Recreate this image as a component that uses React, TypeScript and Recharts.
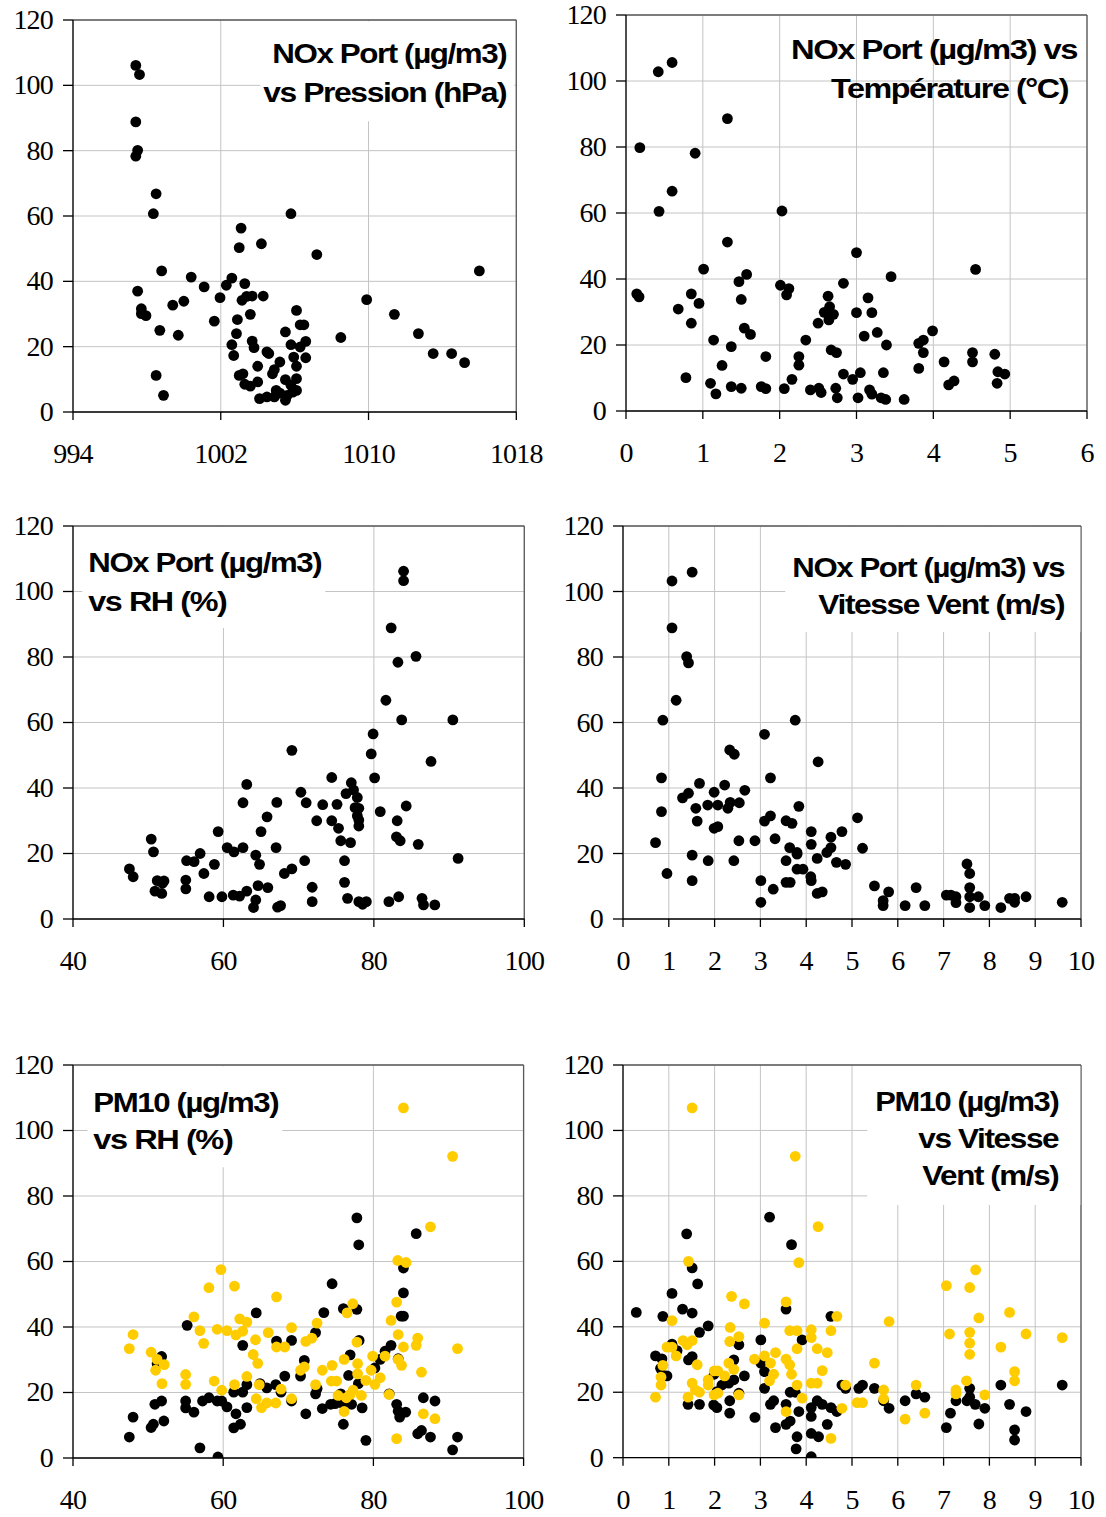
import { CartesianGrid, ReferenceLine, Scatter, ScatterChart, XAxis, YAxis } from 'recharts';

type Pt = [number, number];

// NOx Port (µg/m3) vs Pression (hPa)
const noxPression: Pt[] = [
  [997.4, 106.1], [997.6, 103.3], [997.4, 88.8], [997.5, 80.1], [997.4, 78.3], [998.5, 66.8], [998.35, 60.7],
  [998.8, 43.2], [997.5, 37.0], [997.7, 31.6], [997.7, 30.1], [997.95, 29.5], [998.7, 25.0], [998.5, 11.2],
  [998.9, 5.1], [999.4, 32.7], [1000.0, 33.9], [999.7, 23.5], [1000.4, 41.3], [1001.1, 38.3], [1001.65, 27.8],
  [1001.96, 35.0], [1002.3, 38.8], [1002.6, 41.0], [1003.1, 56.3], [1003.0, 50.3], [1003.3, 39.3], [1003.15, 34.2],
  [1003.4, 35.4], [1003.7, 35.5], [1004.3, 35.5], [1003.6, 29.9], [1002.9, 28.3], [1002.85, 24.0], [1002.6, 20.6],
  [1002.7, 17.3], [1003.7, 21.7], [1003.8, 19.7], [1004.2, 51.5], [1005.8, 60.7], [1007.2, 48.2], [1006.1, 31.1],
  [1006.3, 26.7], [1006.5, 26.7], [1005.5, 24.5], [1005.8, 20.6], [1006.3, 19.9], [1006.6, 21.6], [1005.95, 16.8],
  [1006.6, 16.6], [1006.1, 14.0], [1004.5, 18.4], [1004.6, 17.9], [1005.2, 15.3], [1004.0, 14.0], [1004.9, 13.0],
  [1004.8, 11.7], [1003.0, 11.2], [1003.2, 11.7], [1003.3, 8.5], [1003.6, 7.9], [1004.0, 9.2], [1005.5, 9.9],
  [1006.1, 10.2], [1005.8, 8.2], [1006.1, 6.6], [1004.1, 4.1], [1004.5, 4.6], [1004.9, 4.6], [1005.2, 5.8],
  [1005.5, 3.6], [1005.6, 5.1], [1005.9, 6.1], [1005.0, 6.6], [1009.9, 34.4], [1008.5, 22.8], [1011.4, 29.9],
  [1012.7, 24.0], [1013.5, 17.9], [1014.5, 17.9], [1015.2, 15.1], [1016.0, 43.2],
];

// NOx Port (µg/m3) vs Température (°C)
const noxTemperature: Pt[] = [
  [0.42, 102.8], [0.6, 105.6], [0.18, 79.8], [1.32, 88.6], [0.9, 78.1], [0.6, 66.6], [0.43, 60.5], [2.03, 60.6],
  [1.32, 51.2], [0.14, 35.5], [0.17, 34.6], [1.01, 43.0], [0.85, 35.5], [0.95, 32.6], [0.68, 30.9], [0.85, 26.6],
  [1.47, 39.2], [1.57, 41.4], [1.5, 33.8], [1.54, 25.1], [1.62, 23.2], [1.14, 21.5], [1.37, 19.5], [1.25, 13.8],
  [0.78, 10.1], [1.1, 8.4], [1.17, 5.2], [1.37, 7.4], [1.5, 6.9], [1.76, 7.4], [1.82, 6.8], [1.82, 16.5],
  [2.01, 38.1], [2.12, 37.1], [2.09, 35.2], [2.34, 21.5], [2.25, 16.5], [2.25, 13.9], [2.16, 9.6], [2.06, 6.8],
  [2.4, 6.4], [2.51, 6.9], [2.54, 5.6], [2.5, 26.6], [2.63, 34.8], [2.65, 31.6], [2.58, 29.9], [2.64, 27.6],
  [2.7, 29.3], [2.67, 18.5], [2.74, 17.7], [2.83, 38.7], [2.83, 11.2], [2.95, 9.6], [3.0, 48.0], [3.0, 29.8],
  [2.73, 6.9], [2.75, 4.0], [3.05, 11.6], [3.02, 4.0], [3.15, 34.3], [3.2, 29.8], [3.1, 22.7], [3.27, 23.8],
  [3.39, 20.0], [3.35, 11.6], [3.17, 6.4], [3.2, 5.1], [3.32, 4.0], [3.38, 3.5], [3.45, 40.7], [3.62, 3.5],
  [3.81, 20.5], [3.87, 21.5], [3.87, 17.7], [3.99, 24.3], [3.81, 12.9], [4.14, 14.9], [4.2, 7.9], [4.27, 9.1],
  [4.55, 42.9], [4.51, 17.7], [4.51, 14.9], [4.8, 17.2], [4.84, 11.9], [4.93, 11.2], [4.83, 8.4],
];

// NOx Port (µg/m3) vs RH (%)
const noxRH: Pt[] = [
  [83.95, 106.2], [83.95, 103.3], [82.3, 88.9], [85.6, 80.2], [83.2, 78.4], [81.6, 66.8], [83.7, 60.8], [90.5, 60.8],
  [79.9, 56.5], [79.65, 50.4], [87.6, 48.1], [80.1, 43.1], [69.1, 51.5], [74.4, 43.2], [77.0, 41.6], [77.3, 39.4],
  [76.3, 38.3], [77.8, 37.1], [77.5, 34.0], [78.0, 33.8], [77.8, 31.5], [78.0, 30.2], [78.0, 28.4], [75.1, 35.0],
  [73.2, 34.9], [71.0, 35.5], [70.3, 38.7], [67.1, 35.6], [63.1, 41.1], [62.6, 35.5], [72.4, 30.0], [74.4, 30.0],
  [75.3, 27.7], [75.6, 23.9], [76.9, 23.3], [80.85, 32.8], [84.3, 34.5], [83.1, 30.0], [83.0, 25.1], [83.5, 23.9],
  [85.9, 22.8], [91.2, 18.5], [76.1, 17.8], [76.1, 11.2], [76.5, 6.3], [78.0, 5.3], [78.5, 4.5], [79.0, 5.3],
  [82.0, 5.3], [83.3, 6.8], [86.4, 6.3], [86.6, 4.3], [88.1, 4.3], [70.8, 17.8], [71.8, 9.7], [71.8, 5.3],
  [65.8, 31.2], [65.0, 26.7], [67.0, 21.8], [69.1, 15.3], [68.1, 13.9], [64.3, 19.5], [64.8, 16.7], [64.6, 10.2],
  [65.9, 9.6], [64.3, 5.8], [64.0, 3.5], [67.2, 3.6], [67.6, 4.1], [63.1, 8.5], [62.15, 7.0], [61.3, 7.3],
  [59.8, 6.8], [58.1, 6.8], [59.3, 26.7], [60.5, 21.8], [61.4, 20.5], [62.6, 21.8], [58.8, 16.7], [56.9, 20.0],
  [56.1, 17.5], [55.1, 17.8], [57.4, 13.9], [55.0, 11.9], [55.0, 9.2], [50.4, 24.4], [50.7, 20.5], [51.2, 11.7],
  [52.1, 11.6], [51.9, 10.9], [50.9, 8.5], [51.8, 7.8], [47.5, 15.3], [48.0, 12.9],
];

// NOx Port (µg/m3) vs Vitesse Vent (m/s)
const noxVent: Pt[] = [
  [1.51, 105.9], [1.07, 103.2], [1.07, 88.9], [1.39, 80.1], [1.43, 78.2], [1.16, 66.8], [0.87, 60.7], [3.76, 60.7],
  [3.09, 56.4], [2.33, 51.6], [2.43, 50.3], [4.26, 48.0], [0.84, 43.1], [3.22, 43.1], [1.67, 41.4], [2.22, 40.9],
  [1.43, 38.4], [1.3, 37.0], [1.99, 38.7], [2.66, 39.3], [1.59, 33.8], [1.85, 34.8], [2.07, 34.8], [2.29, 33.8],
  [2.34, 35.6], [2.54, 35.5], [0.84, 32.8], [1.62, 29.9], [1.99, 27.7], [2.07, 28.2], [3.09, 29.9], [3.22, 31.5],
  [3.56, 30.0], [3.69, 29.2], [3.84, 34.4], [5.12, 30.9], [0.71, 23.3], [2.53, 23.9], [2.88, 23.9], [3.32, 24.5],
  [3.64, 21.8], [3.8, 20.3], [3.8, 19.8], [4.11, 26.7], [4.11, 22.8], [4.54, 25.0], [4.78, 26.7], [4.54, 21.8],
  [4.45, 20.3], [5.23, 21.6], [4.24, 18.5], [4.66, 17.3], [4.86, 16.7], [1.51, 19.5], [1.86, 17.8], [2.42, 17.8],
  [3.56, 17.8], [0.96, 13.9], [1.51, 11.7], [3.8, 15.2], [3.93, 15.2], [4.1, 12.9], [4.11, 11.7], [3.56, 11.2],
  [3.65, 11.2], [3.01, 11.7], [3.28, 9.1], [4.24, 7.8], [4.35, 8.3], [3.01, 5.1], [5.49, 10.1], [5.8, 8.3],
  [5.68, 5.6], [5.68, 4.1], [6.16, 4.1], [6.4, 9.6], [6.59, 4.1], [7.06, 7.3], [7.16, 7.3], [7.27, 6.8],
  [7.27, 5.0], [7.51, 16.8], [7.57, 13.9], [7.57, 9.6], [7.57, 6.8], [7.76, 6.8], [7.57, 3.5], [7.9, 4.1],
  [8.25, 3.5], [8.44, 6.3], [8.55, 6.3], [8.55, 5.1], [8.8, 6.8], [9.59, 5.1],
];

// PM10 (µg/m3) vs RH (%), black series
const pmRHBlack: Pt[] = [
  [77.8, 73.3], [78.05, 65.1], [85.7, 68.5], [84.0, 58.0], [84.0, 50.4], [74.5, 53.2], [83.7, 43.3], [84.0, 43.3],
  [76.0, 45.6], [77.8, 45.4], [73.4, 44.4], [64.4, 44.3], [55.2, 40.5], [62.6, 34.4], [67.1, 35.7], [69.1, 35.9],
  [72.3, 38.3], [78.1, 35.9], [76.9, 31.5], [82.35, 34.4], [81.55, 32.6], [80.9, 30.1], [80.2, 27.5], [83.3, 30.3],
  [70.8, 29.8], [70.3, 25.0], [68.2, 25.0], [76.7, 25.2], [78.0, 22.7], [51.2, 28.8], [51.8, 31.0], [64.9, 22.7],
  [65.8, 21.4], [67.0, 22.4], [67.7, 20.1], [63.15, 22.4], [62.6, 20.1], [61.4, 20.1], [72.3, 19.6], [72.5, 21.2],
  [75.65, 19.6], [74.9, 16.6], [74.3, 16.4], [76.0, 16.4], [77.1, 16.4], [73.2, 15.1], [78.5, 15.3], [69.1, 17.4],
  [71.0, 13.5], [76.0, 10.3], [82.1, 19.6], [83.1, 16.4], [83.3, 14.3], [83.5, 12.5], [84.3, 14.0], [86.65, 18.4],
  [88.2, 17.4], [85.9, 7.4], [86.4, 8.4], [87.6, 6.4], [91.2, 6.4], [90.55, 2.5], [79.0, 5.4], [59.8, 17.4],
  [60.5, 15.6], [59.2, 17.4], [58.1, 18.4], [57.25, 17.4], [61.7, 13.5], [63.15, 15.4], [61.4, 9.2], [62.3, 10.3],
  [59.3, 0.3], [56.9, 3.1], [55.0, 17.4], [55.0, 15.3], [56.1, 14.0], [50.9, 16.4], [51.8, 17.4], [52.1, 11.3],
  [50.4, 9.3], [50.7, 10.3], [48.0, 12.5], [47.5, 6.4],
];

// PM10 (µg/m3) vs RH (%), gold series
const pmRHGold: Pt[] = [
  [84.0, 106.9], [90.55, 92.1], [87.6, 70.6], [83.25, 60.3], [84.35, 59.7], [59.7, 57.5], [58.1, 52.0], [61.5, 52.5],
  [67.1, 49.2], [77.25, 47.1], [76.5, 44.3], [83.1, 47.6], [82.35, 42.0], [56.1, 43.1], [62.2, 42.5], [63.15, 41.5],
  [56.9, 38.9], [59.2, 39.3], [60.5, 38.9], [61.7, 37.6], [62.6, 38.7], [48.0, 37.7], [57.4, 35.0], [64.3, 36.1],
  [66.0, 38.3], [69.1, 39.8], [72.5, 41.2], [71.8, 36.6], [71.0, 35.6], [67.1, 33.9], [68.2, 33.9], [47.5, 33.4],
  [50.4, 32.3], [51.2, 30.1], [52.15, 28.5], [51.0, 26.8], [51.85, 22.7], [64.0, 31.6], [64.6, 28.9], [77.8, 35.4],
  [83.3, 37.7], [85.9, 36.6], [85.7, 34.4], [84.0, 33.9], [91.2, 33.4], [79.9, 31.1], [81.55, 31.1], [83.3, 30.1],
  [83.75, 28.3], [76.1, 30.1], [77.9, 28.8], [74.5, 28.3], [73.2, 26.8], [70.8, 27.8], [70.3, 26.8], [79.7, 26.8],
  [86.4, 26.2], [77.9, 25.7], [80.9, 24.5], [74.4, 23.5], [75.1, 23.5], [79.0, 23.7], [80.2, 22.5], [55.0, 25.5],
  [55.0, 22.5], [58.8, 23.5], [63.15, 24.9], [61.5, 22.4], [59.8, 20.7], [64.8, 22.4], [67.7, 21.0], [72.3, 22.4],
  [77.3, 20.7], [78.4, 19.1], [76.9, 19.4], [76.4, 18.4], [75.3, 19.1], [82.1, 19.4], [64.4, 18.1], [65.1, 15.4],
  [65.8, 16.8], [67.0, 16.8], [69.1, 18.1], [76.1, 14.2], [86.65, 13.5], [88.2, 12.0], [83.1, 5.9],
];

// PM10 (µg/m3) vs Vitesse Vent (m/s), black series
const pmVentBlack: Pt[] = [
  [0.29, 44.4], [3.2, 73.5], [1.39, 68.4], [3.68, 65.1], [1.51, 58.0], [1.63, 53.1], [1.07, 50.2], [1.3, 45.4],
  [1.51, 44.2], [0.87, 43.2], [1.86, 40.3], [1.67, 38.3], [3.56, 45.4], [4.54, 43.2], [3.01, 36.0], [3.91, 36.0],
  [1.07, 34.7], [1.18, 32.7], [0.71, 31.1], [0.85, 30.2], [1.51, 30.9], [1.43, 29.9], [2.53, 34.5], [2.42, 29.9],
  [0.82, 27.3], [0.96, 25.0], [1.99, 25.5], [2.65, 25.0], [2.42, 23.8], [2.31, 22.8], [2.16, 22.2], [3.01, 28.9],
  [3.09, 26.3], [3.09, 21.2], [3.65, 20.0], [3.76, 20.0], [2.05, 20.2], [2.53, 19.7], [1.42, 16.3], [1.67, 16.3],
  [1.98, 16.1], [2.05, 15.3], [2.33, 17.4], [2.33, 13.6], [2.88, 12.3], [3.22, 16.3], [3.29, 17.4], [3.56, 16.3],
  [3.33, 9.2], [3.56, 10.2], [3.65, 11.2], [3.84, 14.1], [3.8, 6.4], [3.78, 2.7], [4.11, 15.3], [4.24, 17.4],
  [4.35, 16.3], [4.11, 12.6], [4.11, 7.4], [4.27, 6.4], [4.11, 0.3], [4.46, 10.2], [4.54, 15.3], [4.67, 14.1],
  [4.78, 22.2], [4.86, 21.2], [5.15, 21.2], [5.23, 22.2], [5.49, 21.2], [5.69, 17.4], [5.81, 15.1], [6.16, 17.4],
  [6.4, 19.5], [6.59, 18.5], [7.06, 9.2], [7.15, 13.6], [7.27, 17.4], [7.51, 17.4], [7.57, 21.2], [7.57, 18.5],
  [7.69, 16.3], [7.77, 10.3], [7.9, 15.1], [8.25, 22.2], [8.44, 16.3], [8.55, 8.5], [8.55, 5.4], [8.8, 14.1],
  [9.59, 22.2],
];

// PM10 (µg/m3) vs Vitesse Vent (m/s), gold series
const pmVentGold: Pt[] = [
  [1.51, 106.9], [3.76, 92.1], [4.26, 70.6], [1.43, 60.0], [3.84, 59.6], [7.7, 57.4], [7.06, 52.6], [7.57, 52.0],
  [2.37, 49.3], [2.65, 47.0], [3.56, 47.6], [7.77, 42.7], [1.07, 41.9], [3.09, 41.1], [5.81, 41.6], [4.67, 43.2],
  [8.44, 44.4], [2.34, 39.8], [3.64, 38.8], [3.8, 38.8], [4.11, 39.1], [4.11, 36.7], [4.54, 38.8], [7.13, 37.8],
  [7.57, 38.3], [8.8, 37.8], [9.59, 36.7], [7.57, 35.0], [7.57, 31.6], [8.25, 33.8], [1.31, 35.8], [1.51, 35.8],
  [1.4, 34.5], [0.96, 33.8], [1.07, 33.8], [1.16, 31.1], [2.33, 35.5], [2.53, 37.0], [3.8, 33.3], [4.24, 33.3],
  [4.46, 32.1], [3.33, 32.1], [2.87, 30.1], [3.09, 31.1], [3.22, 28.9], [3.56, 30.1], [3.64, 28.4], [5.49, 28.9],
  [0.87, 28.2], [1.62, 28.4], [2.31, 28.9], [2.42, 27.0], [1.99, 26.5], [2.07, 26.5], [4.35, 26.6], [8.55, 26.3],
  [3.68, 25.5], [3.29, 25.5], [0.83, 24.6], [2.22, 25.0], [1.86, 23.8], [3.2, 23.5], [8.55, 23.5], [7.5, 23.5],
  [0.83, 22.2], [1.51, 22.8], [1.86, 22.2], [3.8, 22.2], [4.11, 22.8], [4.24, 22.8], [4.86, 22.2], [6.4, 22.2],
  [1.58, 20.7], [1.67, 20.0], [7.27, 20.7], [7.27, 19.5], [5.69, 20.7], [1.99, 19.2], [2.07, 19.7], [2.53, 19.2],
  [7.9, 19.2], [0.71, 18.5], [1.42, 18.5], [3.91, 18.2], [5.69, 18.0], [5.11, 16.8], [5.23, 16.8], [4.78, 15.1],
  [3.56, 14.1], [6.59, 13.6], [6.16, 11.8], [4.54, 5.9],
];

const yTicks = [0, 20, 40, 60, 80, 100, 120];
const pressionTicks = [994, 1002, 1010, 1018];
const temperatureTicks = [0, 1, 2, 3, 4, 5, 6];
const rhTicks = [40, 60, 80, 100];
const ventTicks = [0, 1, 2, 3, 4, 5, 6, 7, 8, 9, 10];

const BLACK = '#000000';
const GOLD = '#FFCC00';
const GRID = '#c4c4c4';
const BORDER = '#5a5a5a';
const SERIF = 'Liberation Serif, Times New Roman, serif';
const SANS = 'Liberation Sans, Arial, sans-serif';

const ML = 80;
const MT = 24;
const MR = 40;
const XH = 60;

interface TitleLine {
  text: string;
  x: number;
  y: number;
  len: number;
  anchor: 'start' | 'end';
}

interface PanelProps {
  plot: { l: number; t: number; r: number; b: number };
  xTicks: number[];
  series: { data: Pt[]; color: string }[];
  box?: { x: number; y: number; w: number; h: number };
  lines: TitleLine[];
}

const toRows = (pts: Pt[]) => pts.map(([x, y]) => ({ x, y }));

const Panel = ({ plot, xTicks, series, box, lines }: PanelProps) => {
  const w = plot.r - plot.l + ML + MR;
  const h = plot.b - plot.t + MT + XH;
  const left = plot.l - ML;
  const top = plot.t - MT;
  const xMin = xTicks[0];
  const xMax = xTicks[xTicks.length - 1];

  return (
    <div style={{ position: 'absolute', left, top, width: w, height: h }}>
      <ScatterChart width={w} height={h} margin={{ top: MT, right: MR, bottom: 0, left: 0 }}>
        <CartesianGrid stroke={GRID} strokeWidth={1} />
        <XAxis
          type="number"
          dataKey="x"
          domain={[xMin, xMax]}
          ticks={xTicks}
          interval={0}
          allowDataOverflow
          height={XH}
          tickSize={8}
          tickMargin={2}
          axisLine={{ stroke: '#000', strokeWidth: 1.3 }}
          tickLine={{ stroke: '#000', strokeWidth: 1.3 }}
          tick={(p: any) => (
            <text
              x={p.x}
              y={p.y + 41}
              textAnchor="middle"
              style={{ fontFamily: SERIF, fontSize: 28, letterSpacing: -0.8 }}
              fill="#000"
            >
              {p.payload.value}
            </text>
          )}
        />
        <YAxis
          type="number"
          dataKey="y"
          domain={[0, 120]}
          ticks={yTicks}
          interval={0}
          allowDataOverflow
          width={ML}
          tickSize={10}
          tickMargin={10}
          axisLine={{ stroke: '#000', strokeWidth: 1.3 }}
          tickLine={{ stroke: '#000', strokeWidth: 1.3 }}
          tick={(p: any) => (
            <text
              x={p.x}
              y={p.y}
              dy={9}
              textAnchor="end"
              style={{ fontFamily: SERIF, fontSize: 28, letterSpacing: -0.8 }}
              fill="#000"
            >
              {p.payload.value}
            </text>
          )}
        />
        <ReferenceLine y={120} stroke={BORDER} strokeWidth={1.3} />
        <ReferenceLine x={xMax} stroke={BORDER} strokeWidth={1.3} />
        {series.map((s, i) => (
          <Scatter
            key={i}
            data={toRows(s.data)}
            fill={s.color}
            isAnimationActive={false}
            shape={(p: any) => <circle cx={p.cx} cy={p.cy} r={5.4} fill={s.color} />}
          />
        ))}
      </ScatterChart>
      <svg width={w} height={h} style={{ position: 'absolute', left: 0, top: 0, pointerEvents: 'none' }}>
        {box && <rect x={box.x - left} y={box.y - top} width={box.w} height={box.h} fill="#fff" />}
        {lines.map((ln, i) => (
          <text
            key={i}
            x={ln.x - left}
            y={ln.y - top}
            textAnchor={ln.anchor}
            style={{ fontFamily: SANS, fontWeight: 'bold', fontSize: 27, letterSpacing: -1.2 }}
            textLength={ln.len}
            lengthAdjust="spacingAndGlyphs"
            fill="#000"
          >
            {ln.text}
          </text>
        ))}
      </svg>
    </div>
  );
};

const App = () => (
  <div style={{ position: 'absolute', left: 0, top: 0, width: 1106, height: 1517, background: '#fff', overflow: 'hidden' }}>
    <Panel
      plot={{ l: 72.7, t: 19.7, r: 516, b: 411.7 }}
      xTicks={pressionTicks}
      series={[{ data: noxPression, color: BLACK }]}
      box={{ x: 260, y: 21, w: 254, h: 100 }}
      lines={[
        { text: 'NOx Port (µg/m3)', x: 506, y: 63, len: 234, anchor: 'end' },
        { text: 'vs Pression (hPa)', x: 506, y: 102, len: 243, anchor: 'end' },
      ]}
    />
    <Panel
      plot={{ l: 626, t: 15, r: 1087, b: 411 }}
      xTicks={temperatureTicks}
      series={[{ data: noxTemperature, color: BLACK }]}
      lines={[
        { text: 'NOx Port (µg/m3) vs', x: 1077, y: 59, len: 286, anchor: 'end' },
        { text: 'Température (°C)', x: 1068, y: 98, len: 237, anchor: 'end' },
      ]}
    />
    <Panel
      plot={{ l: 72.7, t: 526, r: 524, b: 919 }}
      xTicks={rhTicks}
      series={[{ data: noxRH, color: BLACK }]}
      box={{ x: 82, y: 527, w: 243, h: 101 }}
      lines={[
        { text: 'NOx Port (µg/m3)', x: 88, y: 572, len: 233, anchor: 'start' },
        { text: 'vs RH (%)', x: 88, y: 611, len: 138, anchor: 'start' },
      ]}
    />
    <Panel
      plot={{ l: 622.7, t: 526, r: 1080.7, b: 919 }}
      xTicks={ventTicks}
      series={[{ data: noxVent, color: BLACK }]}
      box={{ x: 785, y: 527, w: 295, h: 105 }}
      lines={[
        { text: 'NOx Port (µg/m3) vs', x: 1064, y: 577, len: 272, anchor: 'end' },
        { text: 'Vitesse Vent (m/s)', x: 1064, y: 614, len: 246, anchor: 'end' },
      ]}
    />
    <Panel
      plot={{ l: 72.7, t: 1064.7, r: 523.3, b: 1457.7 }}
      xTicks={rhTicks}
      series={[
        { data: pmRHBlack, color: BLACK },
        { data: pmRHGold, color: GOLD },
      ]}
      box={{ x: 87, y: 1066, w: 195, h: 101 }}
      lines={[
        { text: 'PM10 (µg/m3)', x: 93, y: 1112, len: 185, anchor: 'start' },
        { text: 'vs RH (%)', x: 93, y: 1149, len: 139, anchor: 'start' },
      ]}
    />
    <Panel
      plot={{ l: 622.7, t: 1065, r: 1080.7, b: 1457.7 }}
      xTicks={ventTicks}
      series={[
        { data: pmVentBlack, color: BLACK },
        { data: pmVentGold, color: GOLD },
      ]}
      box={{ x: 867, y: 1066, w: 213, h: 139 }}
      lines={[
        { text: 'PM10 (µg/m3)', x: 1058, y: 1111, len: 183, anchor: 'end' },
        { text: 'vs Vitesse', x: 1058, y: 1148, len: 140, anchor: 'end' },
        { text: 'Vent (m/s)', x: 1058, y: 1185, len: 136, anchor: 'end' },
      ]}
    />
  </div>
);

export default App;
